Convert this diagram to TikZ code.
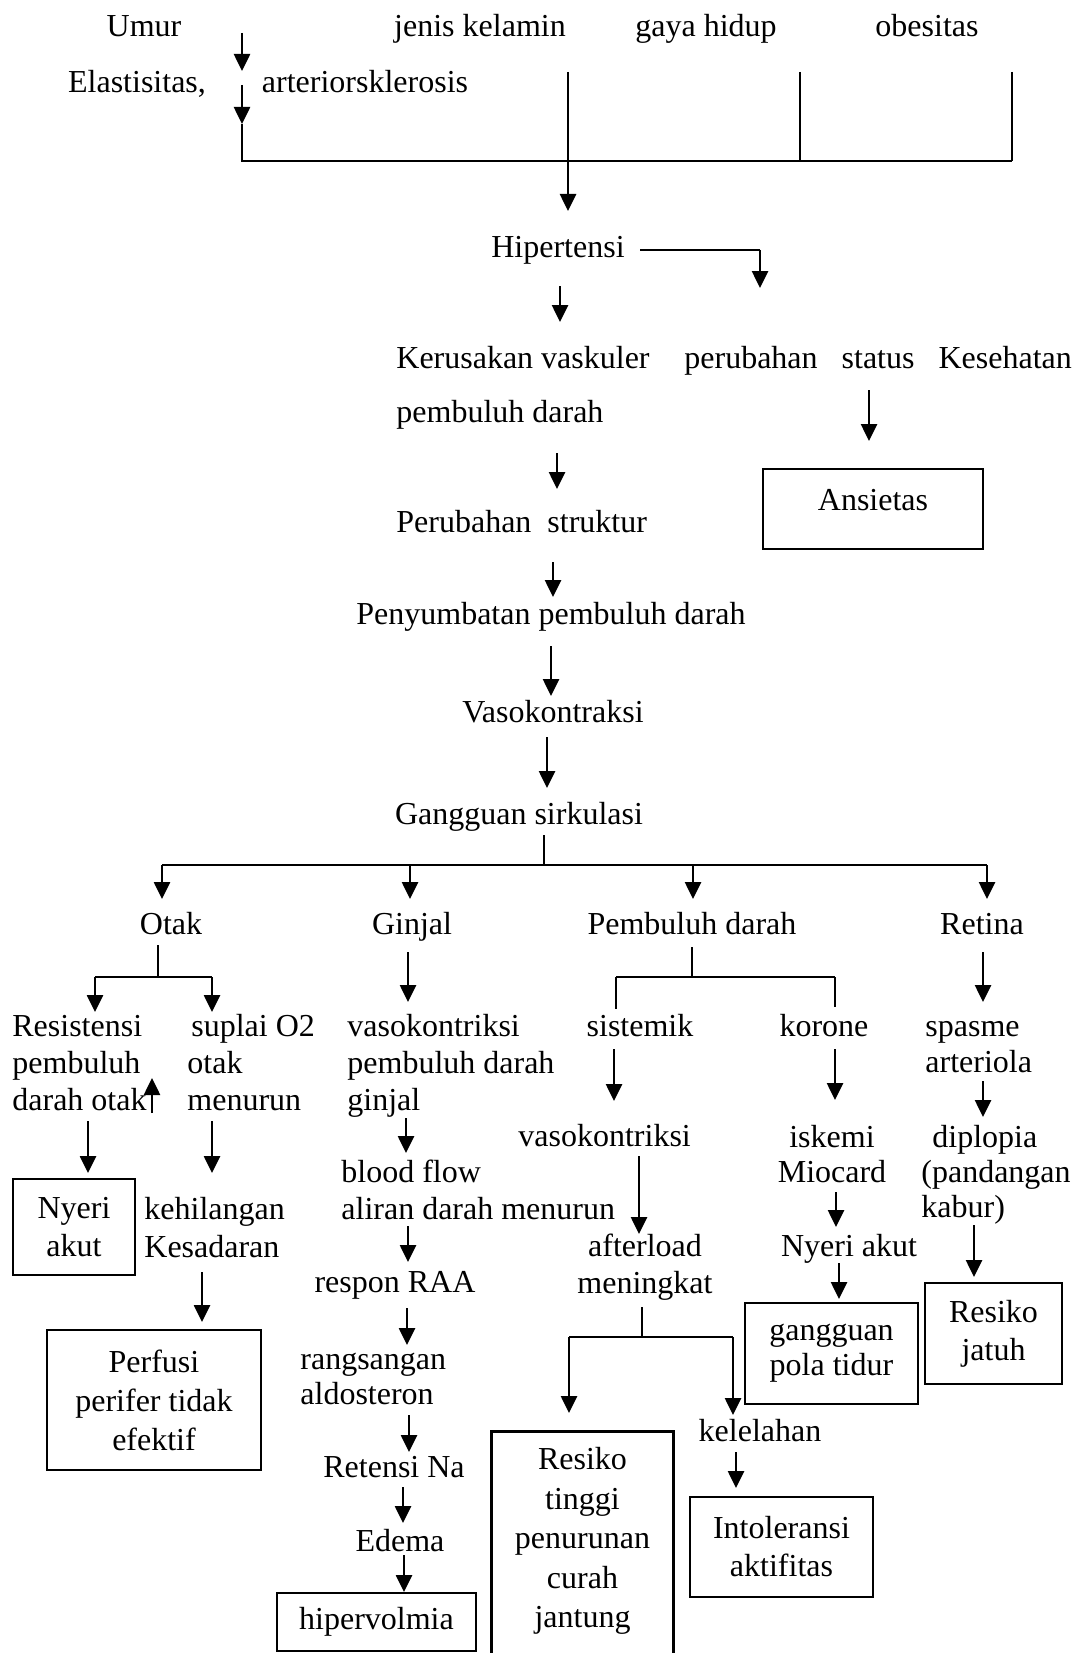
\documentclass[tikz,border=0pt]{standalone}
\usepackage{fontspec}
\setmainfont{Liberation Serif}
\usetikzlibrary{arrows.meta}
\newcommand\tstr{\rule{0pt}{11pt}}
\begin{document}
\begin{tikzpicture}[x=0.5pt,y=-0.5pt,
  every node/.style={inner sep=0pt, font=\fontsize{16}{18.5}\selectfont},
  txtc/.style={anchor=north, align=center},
  txtl/.style={anchor=north west, align=left},
  box/.style={draw, line width=1.4pt, align=center},
  arr/.style={line width=1.3pt, -{Triangle[length=8.5pt,width=8pt]}},
  ln/.style={line width=0.8pt},
  boxln/.style={line width=1.4pt}]
\fill[white] (0,0) rectangle (1080,1653);
\useasboundingbox (0,0) rectangle (1080,1653);

% top row
\node[txtc] (umur) at (144,14) {\tstr Umur};
\node[txtc] (jenis) at (480,14) {\tstr jenis kelamin};
\node[txtc] (gaya) at (706,14) {\tstr gaya hidup};
\node[txtc] (obes) at (927,14) {\tstr obesitas};
\node[txtc] (elast) at (137,70) {\tstr Elastisitas,};
\node[txtc] (arter) at (365,70) {\tstr arteriorsklerosis};

\draw[arr] (242,33) -- (242,71);
\draw[arr] (242,85) -- (242,124);
\draw[ln] (242,124) -- (242,161) -- (1012,161);
\draw[ln] (800,72) -- (800,161);
\draw[ln] (1012,72) -- (1012,161);
\draw[arr] (568,72) -- (568,211);

% hipertensi
\node[txtc] (hip) at (558,235) {\tstr Hipertensi};
\draw[ln] (640,250) -- (760,250);
\draw[arr] (760,250) -- (760,288);
\draw[arr] (560,286) -- (560,322);
\node[txtl, font=\fontsize{16}{27}\selectfont] (kerus) at (396,346) {\tstr Kerusakan vaskuler\\pembuluh darah};
\node[txtl] (perub) at (684,346) {\tstr perubahan\hspace{12pt}status\hspace{12pt}Kesehatan};
\draw[arr] (869,390) -- (869,441);
\node[box, minimum width=110pt, minimum height=40pt, text height=11pt, text depth=10pt] (ans) at (873,509) {Ansietas};
\draw[arr] (557,453) -- (557,489);
\node[txtl] (strukt) at (396,510) {\tstr Perubahan\hspace{4pt} struktur};
\draw[arr] (553,562) -- (553,597);
\node[txtc] (penyum) at (551,602) {\tstr Penyumbatan pembuluh darah};
\draw[arr] (551,646) -- (551,696);
\node[txtc] (vaso) at (553,700) {\tstr Vasokontraksi};
\draw[arr] (547,737) -- (547,788);
\node[txtc] (gang) at (519,802) {\tstr Gangguan sirkulasi};

% split into four
\draw[ln] (544,835) -- (544,865);
\draw[ln] (162,865) -- (987,865);
\draw[arr] (162,865) -- (162,899);
\draw[arr] (410,865) -- (410,899);
\draw[arr] (693,865) -- (693,899);
\draw[arr] (987,865) -- (987,899);
\node[txtc] (otak) at (171,912) {\tstr Otak};
\node[txtc] (ginjal) at (412,912) {\tstr Ginjal};
\node[txtc] (pemb) at (692,912) {\tstr Pembuluh darah};
\node[txtc] (retina) at (982,912) {\tstr Retina};

% Otak branch
\draw[ln] (158,945) -- (158,977);
\draw[ln] (95,977) -- (212,977);
\draw[arr] (95,977) -- (95,1012);
\draw[arr] (212,977) -- (212,1012);
\node[txtl] (resist) at (12,1014) {\tstr Resistensi\\pembuluh\\darah otak};
\node[txtl] (suplai) at (187,1014) {\tstr\hspace{2pt}suplai O2\\otak\\menurun};
\draw[arr] (152,1113) -- (152,1078);
\draw[arr] (88,1121) -- (88,1173);
\draw[arr] (212,1121) -- (212,1173);
\node[box, minimum width=61pt, minimum height=48pt, font=\fontsize{16}{19}\selectfont] (nyeri1) at (74,1227) {Nyeri\\akut};
\node[txtl, font=\fontsize{16}{19}\selectfont] (kehil) at (144,1197) {\tstr kehilangan\\Kesadaran};
\draw[arr] (202,1272) -- (202,1322);
\node[box, minimum width=107pt, minimum height=70pt, font=\fontsize{16}{19.5}\selectfont] (perf) at (154,1400) {Perfusi\\perifer tidak\\efektif};

% Ginjal branch
\draw[arr] (408,952) -- (408,1002);
\node[txtl] (vasog) at (347,1014) {\tstr vasokontriksi\\pembuluh darah\\ginjal};
\draw[arr] (406,1118) -- (406,1153);
\node[txtl] (blood) at (341,1160) {\tstr blood flow\\aliran darah menurun};
\draw[arr] (408,1226) -- (408,1262);
\node[txtc] (respon) at (395,1270) {\tstr respon RAA};
\draw[arr] (407,1308) -- (407,1345);
\node[txtl, font=\fontsize{16}{17.5}\selectfont] (rangs) at (300,1347) {\tstr rangsangan\\aldosteron};
\draw[arr] (409,1415) -- (409,1452);
\node[txtc] (reten) at (394,1455) {\tstr Retensi Na};
\draw[arr] (403,1487) -- (403,1523);
\node[txtc] (edema) at (400,1529) {\tstr Edema};
\draw[arr] (404,1555) -- (404,1592);
\node[box, minimum width=99.5pt, minimum height=29pt] (hiperv) at (376.5,1622) {hipervolmia};

% Pembuluh darah branch
\draw[ln] (692,947) -- (692,977);
\draw[ln] (616,977) -- (835,977);
\draw[ln] (616,977) -- (616,1009);
\draw[ln] (835,977) -- (835,1007);
\node[txtc] (sistem) at (640,1014) {\tstr sistemik};
\node[txtc] (korone) at (824,1014) {\tstr korone};
\draw[arr] (614,1049) -- (614,1101);
\node[txtl] (vasop) at (518,1124) {\tstr vasokontriksi};
\draw[arr] (639,1156) -- (639,1234);
\node[txtc] (after) at (645,1234) {\tstr afterload\\meningkat};
\draw[ln] (642,1307) -- (642,1337);
\draw[ln] (569,1337) -- (733,1337);
\draw[arr] (569,1337) -- (569,1413);
\draw[arr] (733,1337) -- (733,1415);
\node[txtc] (kelel) at (760,1419) {\tstr kelelahan};
\draw[arr] (736,1452) -- (736,1488);
\node[box, minimum width=91.5pt, minimum height=50pt, font=\fontsize{16}{19}\selectfont] (intol) at (781.5,1547) {Intoleransi\\aktifitas};
\node[align=center, minimum width=90.5pt, minimum height=109pt, font=\fontsize{16}{19.75}\selectfont] (resT) at (582.5,1541) {Resiko\\tinggi\\penurunan\\curah\\jantung};
\draw[boxln] ([yshift=-20pt]resT.south west) |- (resT.north east) -- ([yshift=-20pt]resT.south east);

% korone
\draw[arr] (835,1049) -- (835,1100);
\node[txtc, font=\fontsize{16}{17.5}\selectfont] (iskemi) at (832,1125) {\tstr iskemi\\Miocard};
\draw[arr] (836,1192) -- (836,1227);
\node[txtc] (nyeri2) at (849,1234) {\tstr Nyeri akut};
\draw[arr] (839,1263) -- (839,1299);
\node[box, minimum width=86.5pt, minimum height=50.5pt, font=\fontsize{16}{17.5}\selectfont] (gpola) at (831.5,1353.5) {gangguan\\pola tidur};

% Retina
\draw[arr] (983,952) -- (983,1002);
\node[txtl, font=\fontsize{16}{18}\selectfont] (spasme) at (925,1014) {\tstr spasme\\arteriola};
\draw[arr] (983,1081) -- (983,1117);
\node[txtl, font=\fontsize{16}{17.5}\selectfont] (diplo) at (921,1125) {\tstr\hspace{5.5pt}diplopia\\(pandangan\\kabur)};
\draw[arr] (974,1225) -- (974,1277);
\node[box, minimum width=68.5pt, minimum height=50.5pt, font=\fontsize{16}{19}\selectfont] (resJ) at (993.5,1333.5) {Resiko\\jatuh};
\end{tikzpicture}
\end{document}
